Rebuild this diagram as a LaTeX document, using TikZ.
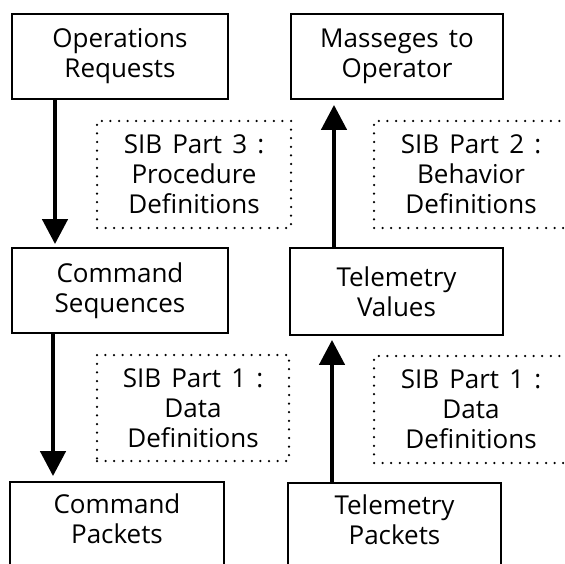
\documentclass[tikz,border=0pt]{standalone}
\usepackage{fontspec}
\setmainfont[WordSpace=1.5]{Open Sans}
\usetikzlibrary{arrows.meta}
\begin{document}
\begin{tikzpicture}[x=1pt,y=-1pt,
  every node/.style={font=\fontsize{26}{30}\selectfont, align=center, inner sep=0pt},
  block/.style={draw, line width=1.8pt, minimum height=85pt},
  lowblock/.style={block, minimum height=92pt, text depth=19pt},
  sibbox/.style={draw, line width=2.5pt, line cap=round, dash pattern=on 0pt off 8.6pt, minimum height=107pt},
  flow/.style={line width=4.5pt, -{Triangle[width=25pt,length=25pt]}}
]
\useasboundingbox (0,0) rectangle (564,564);
\clip (0,0) rectangle (564,564);

% left column: command path
\node[block, minimum width=216pt] (opreq) at (120,56.5) {Operations\\Requests};
\node[block, minimum width=216pt] (cmdseq) at (120,290.5) {Command\\Sequences};
\node[lowblock, minimum width=214pt] (cmdpkt) at (117,528) {Command\\Packets};

% right column: telemetry path
\node[block, minimum width=212pt] (msg) at (397,56.5) {Masseges to\\Operator};
\node[block, minimum width=213pt, minimum height=87pt] (telval) at (396.5,291.5) {Telemetry\\Values};
\node[lowblock, minimum width=213pt] (telpkt) at (394.5,529) {Telemetry\\Packets};

% SIB definition parts
\node[sibbox, minimum width=194pt] (sib3) at (194,174.5) {SIB Part 3 :\\Procedure\\Definitions};
\node[sibbox, minimum width=194pt] (sib2) at (471,174.5) {SIB Part 2 :\\Behavior\\Definitions};
\node[sibbox, minimum width=192pt, minimum height=106pt] (sib1l) at (193,408) {SIB Part 1 :\\Data\\Definitions};
\node[sibbox, minimum width=194pt] (sib1r) at (471,409.5) {SIB Part 1 :\\Data\\Definitions};

% flows
\draw[flow, shorten >=3pt] ([xshift=-65pt]opreq.south) -- ([xshift=-65pt]opreq.south |- cmdseq.north);
\draw[flow, shorten >=5pt] ([xshift=-67pt]cmdseq.south) -- ([xshift=-67pt]cmdseq.south |- cmdpkt.north);
\draw[flow, shorten >=5pt] ([xshift=-62.5pt]telval.north) -- ([xshift=-62.5pt]telval.north |- msg.south);
\draw[flow, shorten >=4pt] ([xshift=-62.5pt]telpkt.north) -- ([xshift=-62.5pt]telpkt.north |- telval.south);
\end{tikzpicture}
\end{document}
